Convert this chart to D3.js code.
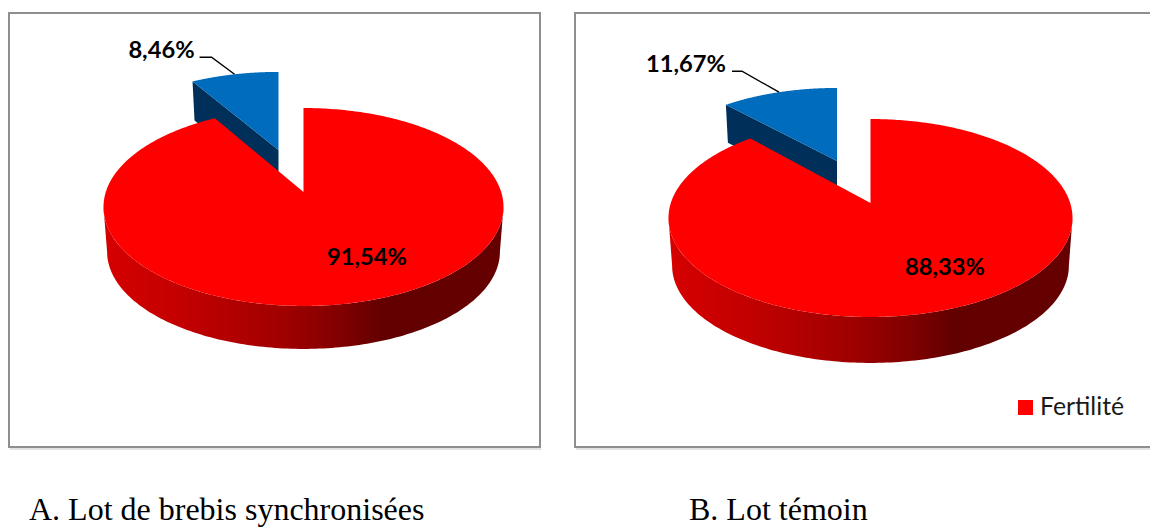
<!DOCTYPE html>
<html lang="fr">
<head>
<meta charset="utf-8">
<title>Fertilité</title>
<script src="https://cdn.jsdelivr.net/npm/d3@7"></script>
<style>
  html, body { margin: 0; padding: 0; background: #fff; overflow: hidden; }
  svg { display: block; }
</style>
</head>
<body>
<svg id="chart" width="1150" height="527"></svg>
<script>
// Fertility share and its complement for each group of ewes
const categories = ["Fertilité", "Infertilité"];
const valuesA = [91.54, 8.46];
const valuesB = [88.33, 11.67];
const captions = ["A. Lot de brebis synchronisées", "B. Lot témoin"];
const legendLabels = ["Fertilité"];
const sliceColors = ["#ff0000", "#006cbd"];

const panels = [
  {
    id: "a", values: valuesA, caption: captions[0], captionX: 29,
    frame: { x1: 9, y1: 13, x2: 540, y2: 447 },
    apex: { x: 303.5, y: 192 }, radiusX: 1.0,
    exploded: { dx: -25, dy: -42, kx: 0.97, ky: 0.93 },
    valueLabel: { x: 367, y: 265 },
    leader: { elbowDx: -23, elbowDy: -17, tailDx: -12, gap: 5, baseline: 1 },
    wallDepth: 39, rimDrop: 45
  },
  {
    id: "b", values: valuesB, caption: captions[1], captionX: 689,
    frame: { x1: 575, y1: 13, x2: 1170, y2: 447 },
    apex: { x: 870.5, y: 203 }, radiusX: 1.01,
    exploded: { dx: -33.5, dy: -42, kx: 0.925, ky: 0.87 },
    valueLabel: { x: 945, y: 275 },
    leader: { elbowDx: -37, elbowDy: -21, tailDx: -10, gap: 6, baseline: 1 },
    wallDepth: 38, rimDrop: 48
  }
];

const svg = d3.select("#chart");
const defs = svg.append("defs");

// Shading of the pie's rim, left to right
const rim = defs.append("linearGradient").attr("id", "rim");
[[0, "#d60000"], [0.2, "#c20000"], [0.45, "#a00000"], [0.6, "#800000"],
 [0.7, "#620000"], [1, "#660000"]].forEach(([o, c]) =>
  rim.append("stop").attr("offset", o).attr("stop-color", c));

// Perspective tilt: the unit disc is sent to screen offsets by a homography
const tilt = 0.1515, scaleX = 197.7, scaleY = 96.7;
function project(angle, r) {
  const u = r * Math.sin(angle), v = -r * Math.cos(angle);
  const w = 1 - tilt * v;
  return [scaleX * u / w, scaleY * v / w];
}
// Polar angles of the disc's left and right extremes under that tilt
const widestRight = Math.PI - Math.acos(tilt);
const widestLeft = 2 * Math.PI - widestRight;

const pieLayout = d3.pie().sort(null).value(d => d);
const outline = d3.line().curve(d3.curveLinear);

function arcPoints(a0, a1, steps = 160) {
  return d3.range(steps + 1).map(i => a0 + (a1 - a0) * i / steps);
}

panels.forEach(p => {
  const g = svg.append("g").attr("class", "panel-" + p.id);
  const [main, slice] = pieLayout(p.values);

  const toMain = (a, r = 1) => {
    const [x, y] = project(a, r);
    return [p.apex.x + x * p.radiusX, p.apex.y + y];
  };
  const toSlice = (a, r = 1) => {
    const [x, y] = project(a, r);
    return [p.apex.x + p.exploded.dx + x * p.exploded.kx * p.radiusX,
            p.apex.y + p.exploded.dy + y * p.exploded.ky];
  };
  const toRimFloor = a => {
    const [x, y] = project(a, 1);
    return [p.apex.x + x * p.radiusX * 0.982, p.apex.y + y * 0.982 + p.rimDrop];
  };

  // Chart frame with its faint drop shadow
  const f = p.frame;
  g.append("path")
    .attr("d", `M${f.x1 + 1},${f.y2 + 2}H${f.x2 + 1}`)
    .attr("stroke", "#e2e2e2").attr("stroke-width", 2).attr("fill", "none");
  g.append("rect")
    .attr("x", f.x1).attr("y", f.y1)
    .attr("width", f.x2 - f.x1).attr("height", f.y2 - f.y1)
    .attr("fill", "#fff").attr("stroke", "#8e8e8e").attr("stroke-width", 2);

  // Detached slice: inner wall first, then its top face
  const sliceArc = arcPoints(slice.startAngle, slice.endAngle);
  const cornerTop = toSlice(slice.startAngle);
  const hub = toSlice(0, 0);
  g.append("path")
    .attr("d", outline([cornerTop, hub, [hub[0], hub[1] + p.wallDepth],
                        [cornerTop[0] + 2, cornerTop[1] + p.wallDepth]]) + "Z")
    .attr("fill", "#00305a");
  g.append("path")
    .attr("d", outline([hub, ...sliceArc.map(a => toSlice(a))]) + "Z")
    .attr("fill", sliceColors[1]);

  // Rim of the large slice, between the disc's widest points
  const rimAngles = arcPoints(widestRight, widestLeft);
  g.append("path")
    .attr("d", outline([...rimAngles.map(a => toMain(a)),
                        ...rimAngles.slice().reverse().map(toRimFloor)]) + "Z")
    .attr("fill", "url(#rim)");

  // Top face of the large slice
  const mainArc = arcPoints(main.startAngle, main.endAngle, 360);
  g.append("path")
    .attr("d", outline([toMain(0, 0), ...mainArc.map(a => toMain(a))]) + "Z")
    .attr("fill", sliceColors[0]);

  // Leader line from the small slice's label to the middle of its arc
  const anchor = toSlice((slice.startAngle + slice.endAngle) / 2);
  const elbow = [anchor[0] + p.leader.elbowDx, anchor[1] + p.leader.elbowDy];
  const tail = elbow[0] + p.leader.tailDx;
  g.append("path")
    .attr("d", outline([[tail, elbow[1]], elbow, anchor]))
    .attr("fill", "none").attr("stroke", "#000").attr("stroke-width", 1.4);

  const fmt = v => v.toFixed(2).replace(".", ",") + "%";
  g.append("text")
    .attr("x", p.valueLabel.x).attr("y", p.valueLabel.y)
    .attr("text-anchor", "middle")
    .attr("font-family", "Lato, sans-serif").attr("font-weight", 700)
    .attr("font-size", 23.7).attr("fill", "#000")
    .text(fmt(main.data));
  g.append("text")
    .attr("x", tail - p.leader.gap).attr("y", elbow[1] + p.leader.baseline)
    .attr("text-anchor", "end")
    .attr("font-family", "Lato, sans-serif").attr("font-weight", 700)
    .attr("font-size", 23.7).attr("fill", "#000")
    .text(fmt(slice.data));

  // Caption under the frame
  g.append("text")
    .attr("x", p.captionX).attr("y", 520)
    .attr("font-family", "'Liberation Serif', serif")
    .attr("font-size", 32).attr("fill", "#000")
    .text(p.caption);
});

// Legend, shown once inside the second frame
const legend = svg.append("g").attr("class", "legend");
legend.selectAll("rect").data(legendLabels).join("rect")
  .attr("x", 1018).attr("y", 400).attr("width", 15).attr("height", 15)
  .attr("fill", sliceColors[categories.indexOf(legendLabels[0])]);
legend.selectAll("text").data(legendLabels).join("text")
  .attr("x", 1040).attr("y", 415)
  .attr("font-family", "Lato, sans-serif").attr("font-size", 24.8)
  .attr("fill", "#1a1a1a")
  .text(d => d);
</script>
</body>
</html>
